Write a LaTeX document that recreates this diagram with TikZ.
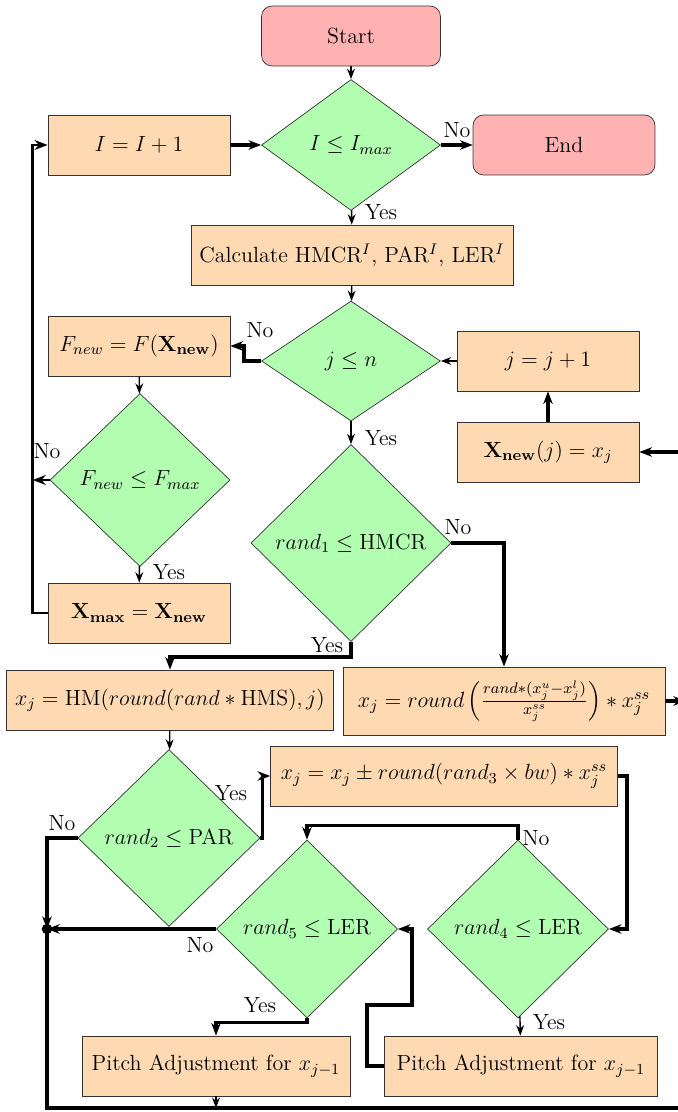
\documentclass[tikz,border=0pt]{standalone}
\usepackage{amsmath,amssymb}
\usepackage{fix-cm}
\usepackage{tikz}
\usetikzlibrary{arrows.meta, positioning, calc, shapes.geometric}

\begin{document}
\begin{tikzpicture}[
        x=0.02cm, y=-0.02cm,
        font=\fontsize{12.5}{15}\selectfont,
        box/.style={draw=black!80, fill=orange!30, align=center, minimum width=3.64cm, minimum height=1.2cm, inner sep=2pt},
        term/.style={box, rounded corners=6pt, fill=red!30},
        dec/.style={draw=black!80, diamond, fill=green!30, inner sep=0pt, minimum width=3.62cm, minimum height=3.56cm},
        lbl/.style={inner sep=1pt},
        arr/.style={-{Stealth[scale=0.9]}, thick},
        tarr/.style={-{Stealth[scale=0.6]}, line width=2pt},
        marr/.style={-{Stealth[scale=0.8]}, line width=1.4pt}
    ]
        \useasboundingbox (0,0) rectangle (678,1112);
        \clip (0,0) rectangle (678,1112);

        \node[term, minimum width=3.58cm] (start) at (351,36) {Start};
        \node[dec, minimum width=3.58cm, minimum height=2.62cm] (imax) at (351,145) {$I \leq I_{max}$};
        \node[box] (inc) at (139,145) {$I = I + 1$};
        \node[term] (end) at (564,145) {End};
        \node[box, minimum width=6.44cm] (calc) at (352,255) {Calculate HMCR$^I$, PAR$^I$, LER$^I$};
        \node[dec, minimum width=3.58cm, minimum height=2.4cm] (jn) at (351,361) {$j \leq n$};
        \node[box] (fnew) at (139,346) {$F_{new} = F(\mathbf{X}_{\mathbf{new}})$};
        \node[box] (jinc) at (548,361) {$j = j + 1$};
        \node[box] (xnew) at (548,452) {$\mathbf{X}_{\mathbf{new}}(j) = x_j$};
        \node[dec, minimum width=3.6cm, minimum height=3.46cm] (fmax) at (140,480) {$F_{new} \leq F_{max}$};
        \node[dec, minimum width=4cm, minimum height=3.94cm] (hmcr) at (351,543) {$rand_1 \leq \text{HMCR}$};
        \node[box] (xmax) at (139,613) {$\mathbf{X}_{\mathbf{max}} = \mathbf{X}_{\mathbf{new}}$};
        \node[box, minimum width=6.54cm] (hm) at (170,700) {$x_j = \text{HM}(round(rand * \text{HMS}), j)$};
        \node[box, minimum width=6.44cm, minimum height=1.36cm] (rnd) at (504,701) {$x_j = round\left(\frac{rand*(x_j^u - x_j^l)}{x_j^{ss}}\right) * x_j^{ss}$};
        \node[dec, minimum width=3.64cm, minimum height=3.54cm] (par) at (169,838) {$rand_2 \leq \text{PAR}$};
        \node[box, minimum width=6.94cm] (bw) at (444,776) {$x_j = x_j \pm round(rand_3 \times bw) * x_j^{ss}$};
        \node[dec] (ler5) at (307,929) {$rand_5 \leq \text{LER}$};
        \node[dec] (ler4) at (518,929) {$rand_4 \leq \text{LER}$};
        \node[box, minimum width=5.36cm] (pa1) at (216,1066) {Pitch Adjustment for $x_{j-1}$};
        \node[box, minimum width=5.46cm] (pa2) at (521,1066) {Pitch Adjustment for $x_{j-1}$};

        % branch labels
        \node[lbl] (no1) at (457,130) {No};
        \node[lbl] (yes1) at (381,212) {Yes};
        \node[lbl] (no2) at (260,330) {No};
        \node[lbl] (yes2) at (381,438) {Yes};
        \node[lbl] (no3) at (47,451) {No};
        \node[lbl] (yes3) at (169,572) {Yes};
        \node[lbl] (no4) at (458,527) {No};
        \node[lbl] (yes4) at (327,645) {Yes};
        \node[lbl] (yes5) at (231,793) {Yes};
        \node[lbl] (no5) at (62,823) {No};
        \node[lbl] (no6) at (200,945) {No};
        \node[lbl] (no7) at (536,838) {No};
        \node[lbl] (yes6) at (260,1005) {Yes};
        \node[lbl] (yes7) at (549,1022) {Yes};

        \coordinate (dot) at (47,929);
        \coordinate (far) at (686,1108);
        \coordinate (kink) at (412,1005);
        \fill (dot) circle (3pt);

        \draw[arr] (start) -- (imax);
        \draw[tarr] (inc) -- (imax);
        \draw[tarr] (imax) -- (end);
        \draw[arr] (imax) -- (calc);
        \draw[arr] (calc) -- (jn);
        \draw[tarr] (jn.west) -- ++(-17,0) |- (fnew);
        \draw[arr] (jn) -- (hmcr);
        \draw[arr] (jinc) -- (jn);
        \draw[tarr] (xnew) -- (jinc);
        \draw[arr] (fnew) -- (fmax);
        \draw[arr] (fmax) -- (xmax);
        \draw[marr] (fmax.west) -- ++(-17,0);
        \draw[marr] (xmax.west) -- ++(-15,0) |- (inc);
        \draw[tarr] (hmcr.south) -- ++(0,15) -| (hm);
        \draw[tarr] (hmcr.east) -| (rnd);
        \draw[tarr] (rnd) -- (rnd -| far);
        \draw[arr] (hm) -- (par);
        \draw[tarr] (par.east) -- ++(2,0) |- (bw);
        \draw[tarr] (par.west) -| (dot);
        \draw[tarr] (ler5.west) -- (dot);
        \draw[tarr] (bw.east) -- ++(9,0) |- (ler4);
        \draw[tarr] (ler4.north) -- ++(0,-14) -| (ler5);
        \draw[arr] (ler4) -- (pa2);
        \draw[tarr] (ler5.south) -- ++(0,4) -| (pa1);
        \draw[tarr] (pa2.west) -- ++(-17,0) |- (kink) |- (ler5.east);
        \draw[arr] (pa1) -- (pa1 |- far);
        \draw[tarr] (dot) |- (far) |- (xnew);
    \end{tikzpicture}
\end{document}
